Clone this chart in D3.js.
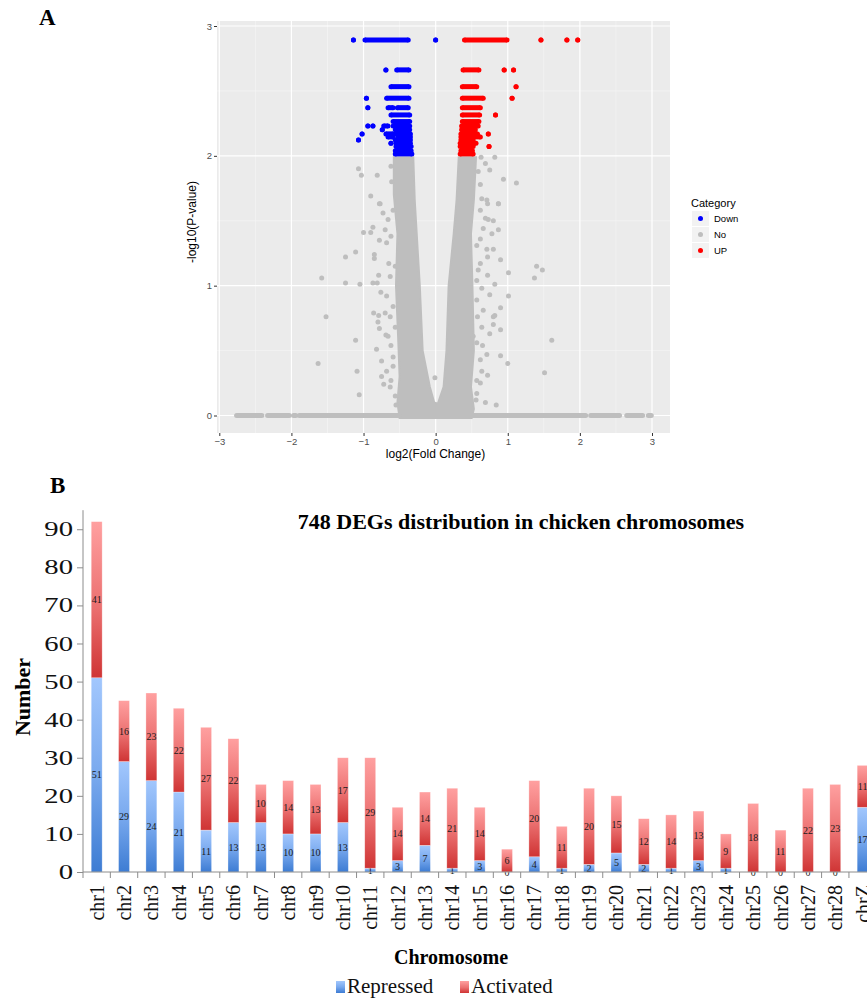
<!DOCTYPE html>
<html>
<head>
<meta charset="utf-8">
<script src="https://cdn.jsdelivr.net/npm/d3@7"></script>
<style>
  body { margin: 0; background: #fff; }
  svg { display: block; }
</style>
</head>
<body>
<svg id="fig" width="867" height="999"></svg>
<script>
// ---------- panel A: volcano plot (log2 fold change, -log10 p) ----------

// outline of the solid grey "V" where points overlap completely
var coreOutline = [
  [-0.50, -0.02], [-0.53, 0.10], [-0.50, 0.30], [-0.52, 0.60], [-0.55, 1.00],
  [-0.53, 1.40], [-0.58, 1.70], [-0.58, 1.99],
  [-0.31, 1.99], [-0.29, 1.66], [-0.22, 1.00], [-0.18, 0.50], [-0.08, 0.22], [-0.02, 0.10],
  [0.03, 0.09], [0.11, 0.22], [0.15, 0.50], [0.18, 1.00], [0.25, 1.40], [0.29, 1.66], [0.32, 1.99],
  [0.56, 1.99], [0.53, 1.66], [0.49, 1.40], [0.51, 1.00], [0.53, 0.50], [0.49, 0.22],
  [0.53, 0.05], [0.50, -0.02]
];

// runs of grey points lying on -log10(p) = 0  [x0, x1]
var baselineRuns = [
  [-2.76, -2.41], [-2.33, -2.03], [-1.97, -1.94], [-1.89, -0.5],
  [0.5, 2.08], [2.15, 2.55], [2.65, 2.87], [2.95, 2.99]
];

// scattered grey points [log2FC, -log10p]
var grayPoints = [
  [-1.58, 1.06], [-1.52, 0.76], [-1.63, 0.40], [-1.25, 1.22], [-1.11, 1.26], [-1.25, 1.02],
  [-1.05, 1.01], [-1.11, 0.58], [-1.09, 0.34], [-1.06, 0.16], [-1.00, 1.41], [-0.90, 1.41],
  [-0.87, 1.45], [-0.78, 1.35], [-0.85, 1.24], [-0.85, 1.21], [-0.79, 1.08], [-0.87, 1.02],
  [-0.81, 1.02], [-0.76, 0.95], [-0.86, 0.79], [-0.79, 0.77], [-0.80, 0.72], [-0.78, 0.67],
  [-0.82, 0.51], [-0.75, 0.42], [-0.75, 0.30], [-0.72, 0.24], [-0.77, 1.63], [-0.69, 0.62],
  [-0.62, 0.27], [-0.68, 0.34], [-0.63, 0.76], [-0.68, 1.33], [-0.65, 1.17], [-0.59, 0.45],
  [-0.62, 0.54], [-1.07, 1.90], [-1.03, 1.85], [-0.81, 1.85], [-0.90, 1.69], [-0.78, 1.63],
  [-0.73, 1.56], [-0.01, 0.29],
  [-0.59, 1.58], [-0.66, 1.51], [-0.70, 1.43], [-0.62, 1.38], [-0.56, 1.15], [-0.63, 1.07],
  [-0.68, 0.92], [-0.59, 0.84], [-0.70, 0.79], [-0.56, 0.68], [-0.66, 0.61], [-0.59, 0.38],
  [-0.63, 0.22], [-0.56, 0.15], [-0.55, 0.08], [-0.61, 1.80], [-0.62, 1.92],
  [1.01, 1.10], [1.01, 0.92], [1.00, 0.40], [1.37, 1.06], [1.40, 1.15], [1.48, 1.12],
  [1.61, 0.58], [1.51, 0.33], [0.90, 1.20], [0.90, 0.46], [0.90, 0.83], [0.87, 1.43],
  [0.87, 1.63], [0.82, 1.01], [0.82, 0.77], [0.84, 0.08], [0.75, 0.93], [0.75, 0.63],
  [0.72, 1.22], [0.72, 1.63], [0.80, 1.28], [0.80, 1.50], [0.80, 0.76], [0.80, 0.70],
  [0.72, 1.08], [0.69, 0.10], [0.71, 0.47], [0.72, 0.31], [0.62, 1.17], [0.62, 0.25],
  [0.64, 0.98], [0.66, 1.44], [0.57, 0.17], [0.52, 0.61], [0.65, 0.54], [0.90, 0.66],
  [0.82, 1.99], [0.63, 1.99], [0.69, 1.94], [0.75, 1.89], [0.94, 1.82], [1.12, 1.79],
  [0.62, 1.78], [0.64, 1.67], [0.71, 1.66], [0.87, 1.63], [0.73, 1.51],
  [0.62, 1.58], [0.69, 1.52], [0.78, 1.40], [0.62, 1.36], [0.57, 1.31], [0.71, 1.28],
  [0.59, 1.12], [0.57, 1.04], [0.57, 0.89], [0.66, 0.81], [0.58, 0.76], [0.64, 0.68],
  [0.57, 0.56], [0.62, 0.43], [0.64, 0.34], [0.57, 0.27], [0.56, 0.12], [0.59, 1.88]
];

// significant points, as horizontal runs of overlapping dots [y, x0, x1]
var downRuns = [
  [2.893, -1.14, -1.14], [2.893, -0.98, -0.38], [2.893, 0.0, 0.0],
  [2.662, -0.69, -0.69], [2.662, -0.54, -0.37],
  [2.533, -0.62, -0.37],
  [2.444, -0.96, -0.96], [2.444, -0.68, -0.37],
  [2.371, -0.94, -0.94], [2.371, -0.66, -0.59], [2.371, -0.53, -0.38],
  [2.315, -0.62, -0.36],
  [2.264, -0.59, -0.36],
  [2.230, -0.94, -0.94], [2.230, -0.87, -0.87], [2.230, -0.72, -0.66], [2.230, -0.59, -0.36],
  [2.200, -0.74, -0.74], [2.200, -0.56, -0.36],
  [2.169, -1.02, -1.02], [2.169, -0.69, -0.59], [2.169, -0.55, -0.35],
  [2.146, -0.66, -0.59], [2.146, -0.52, -0.35],
  [2.122, -1.07, -1.07], [2.122, -0.56, -0.35],
  [2.097, -0.62, -0.62], [2.097, -0.55, -0.35],
  [2.071, -0.55, -0.34],
  [2.040, -0.56, -0.34],
  [2.015, -0.56, -0.33]
];
var upRuns = [
  [2.893, 0.40, 0.99], [2.893, 1.46, 1.46], [2.893, 1.82, 1.82], [2.893, 1.97, 1.97],
  [2.662, 0.38, 0.60], [2.662, 0.95, 0.95], [2.662, 1.08, 1.08],
  [2.533, 0.37, 0.57], [2.533, 1.115, 1.115],
  [2.444, 0.37, 0.66], [2.444, 1.06, 1.06],
  [2.371, 0.37, 0.62],
  [2.315, 0.37, 0.61], [2.315, 0.83, 0.83],
  [2.264, 0.37, 0.60],
  [2.230, 0.36, 0.59],
  [2.200, 0.36, 0.55],
  [2.169, 0.35, 0.58], [2.169, 0.73, 0.73],
  [2.146, 0.35, 0.62],
  [2.122, 0.35, 0.52],
  [2.097, 0.34, 0.56],
  [2.071, 0.34, 0.52], [2.071, 0.74, 0.74],
  [2.040, 0.35, 0.51],
  [2.015, 0.34, 0.52]
];

var categoryNames = ["Down", "No", "UP"];
var categoryColors = ["#0000ff", "#bebebe", "#ff0000"];
var xTicksA = [-3, -2, -1, 0, 1, 2, 3];
var yTicksA = [0, 1, 2, 3];

// ---------- panel B: DEGs per chromosome ----------
var chromosomes = ["chr1","chr2","chr3","chr4","chr5","chr6","chr7","chr8","chr9","chr10",
  "chr11","chr12","chr13","chr14","chr15","chr16","chr17","chr18","chr19","chr20",
  "chr21","chr22","chr23","chr24","chr25","chr26","chr27","chr28","chrZ"];
var repressed = [51,29,24,21,11,13,13,10,10,13, 1,3,7,1,3,0,4,1,2,5, 2,1,3,1,0,0,0,0,17];
var activated = [41,16,23,22,27,22,10,14,13,17, 29,14,14,21,14,6,20,11,20,15, 12,14,13,9,18,11,22,23,11];
var seriesNames = ["Repressed", "Activated"];
var yTicksB = d3.range(0, 91, 10);

var svg = d3.select("#fig");
var sans = "'Liberation Sans', Arial, sans-serif";
var serif = "'Liberation Serif', 'Times New Roman', serif";

var defs = svg.append("defs");
function grad(id, stops) {
  var g = defs.append("linearGradient").attr("id", id)
    .attr("x1", 0).attr("y1", 0).attr("x2", 0).attr("y2", 1);
  stops.forEach(function(s) {
    g.append("stop").attr("offset", s[0]).attr("stop-color", s[1]);
  });
}
grad("gBlue", [[0, "#a2c7fd"], [0.5, "#79a9ee"], [1, "#3d7cd3"]]);
grad("gRed", [[0, "#ffa0a0"], [0.55, "#eb7070"], [1, "#cf3434"]]);

// ================= PANEL A =================
var A = { left: 217, right: 670, top: 21, bottom: 433 };
var x = d3.scaleLinear().domain([-3, 3]).range([219.3, 652]);
var y = d3.scaleLinear().domain([0, 3]).range([415.5, 26]);
var r = 2.5;

var gA = svg.append("g");
gA.append("text").attr("x", 39).attr("y", 25)
  .attr("font-family", serif).attr("font-weight", "bold").attr("font-size", 23)
  .text("A");

gA.append("rect").attr("x", A.left).attr("y", A.top)
  .attr("width", A.right - A.left).attr("height", A.bottom - A.top)
  .attr("fill", "#ebebeb");

var minorX = d3.range(-2.5, 3, 1), minorY = [0.5, 1.5, 2.5];
gA.selectAll(".mx").data(minorX).enter().append("line")
  .attr("x1", d => x(d)).attr("x2", d => x(d)).attr("y1", A.top).attr("y2", A.bottom)
  .attr("stroke", "#f7f7f7").attr("stroke-width", 0.6);
gA.selectAll(".my").data(minorY).enter().append("line")
  .attr("x1", A.left).attr("x2", A.right).attr("y1", d => y(d)).attr("y2", d => y(d))
  .attr("stroke", "#f7f7f7").attr("stroke-width", 0.6);
gA.selectAll(".gx").data(xTicksA).enter().append("line")
  .attr("x1", d => x(d)).attr("x2", d => x(d)).attr("y1", A.top).attr("y2", A.bottom)
  .attr("stroke", "#fff").attr("stroke-width", 1.2);
gA.selectAll(".gy").data(yTicksA).enter().append("line")
  .attr("x1", A.left).attr("x2", A.right).attr("y1", d => y(d)).attr("y2", d => y(d))
  .attr("stroke", "#fff").attr("stroke-width", 1.2);

// non-significant
gA.append("path").datum(coreOutline)
  .attr("d", d3.line().x(d => x(d[0])).y(d => y(d[1])).curve(d3.curveLinearClosed))
  .attr("fill", categoryColors[1]).attr("stroke", categoryColors[1]).attr("stroke-width", 2);
gA.selectAll(".base").data(baselineRuns).enter().append("line")
  .attr("x1", d => x(d[0])).attr("x2", d => x(d[1])).attr("y1", y(0)).attr("y2", y(0))
  .attr("stroke", categoryColors[1]).attr("stroke-width", 2 * r).attr("stroke-linecap", "round");
gA.selectAll(".gp").data(grayPoints).enter().append("circle")
  .attr("cx", d => x(d[0])).attr("cy", d => y(d[1])).attr("r", r)
  .attr("fill", categoryColors[1]);

function drawRuns(runs, color) {
  var g = gA.append("g").attr("fill", color);
  g.selectAll("line").data(runs).enter().append("line")
    .attr("x1", d => x(d[1])).attr("x2", d => x(d[2]))
    .attr("y1", d => y(d[0])).attr("y2", d => y(d[0]))
    .attr("stroke", color).attr("stroke-width", 2 * r);
  g.selectAll("circle.a").data(runs).enter().append("circle")
    .attr("cx", d => x(d[1])).attr("cy", d => y(d[0])).attr("r", r);
  g.selectAll("circle.b").data(runs).enter().append("circle")
    .attr("cx", d => x(d[2])).attr("cy", d => y(d[0])).attr("r", r);
}
drawRuns(downRuns, categoryColors[0]);
drawRuns(upRuns, categoryColors[2]);

// axes
var axA = gA.append("g").attr("transform", "translate(0," + A.bottom + ")")
  .call(d3.axisBottom(x).tickValues(xTicksA).tickSize(3).tickPadding(2).tickFormat(d3.format("d")));
var ayA = gA.append("g").attr("transform", "translate(" + A.left + ",0)")
  .call(d3.axisLeft(y).tickValues(yTicksA).tickSize(3).tickPadding(2).tickFormat(d3.format("d")));
[axA, ayA].forEach(function(ax) {
  ax.select(".domain").remove();
  ax.selectAll("line").attr("stroke", "#333");
  ax.selectAll("text").attr("font-family", sans).attr("font-size", 9.5).attr("fill", "#4d4d4d");
});
gA.append("text").attr("x", (A.left + A.right) / 2 - 8).attr("y", 458)
  .attr("text-anchor", "middle").attr("font-family", sans).attr("font-size", 12)
  .text("log2(Fold Change)");
gA.append("text").attr("transform", "translate(196,222) rotate(-90)")
  .attr("text-anchor", "middle").attr("font-family", sans).attr("font-size", 12)
  .text("-log10(P-value)");

// legend A
var lgA = gA.append("g").attr("transform", "translate(691,0)");
lgA.append("text").attr("x", 0).attr("y", 207)
  .attr("font-family", sans).attr("font-size", 11).text("Category");
var lItems = lgA.selectAll(".li").data(categoryNames).enter().append("g")
  .attr("transform", (d, i) => "translate(0," + (211 + i * 16) + ")");
lItems.append("rect").attr("x", 1).attr("y", 0).attr("width", 17).attr("height", 15)
  .attr("fill", "#f2f2f2");
lItems.append("circle").attr("cx", 9.5).attr("cy", 7.5).attr("r", r)
  .attr("fill", (d, i) => categoryColors[i]);
lItems.append("text").attr("x", 23).attr("y", 11)
  .attr("font-family", sans).attr("font-size", 9.5).text(d => d);

// ================= PANEL B =================
var gB = svg.append("g");
gB.append("text").attr("x", 50).attr("y", 493)
  .attr("font-family", serif).attr("font-weight", "bold").attr("font-size", 23)
  .text("B");

var rows = chromosomes.map(function(c, i) {
  return { chr: c, Repressed: repressed[i], Activated: activated[i] };
});
var stacked = d3.stack().keys(seriesNames)(rows);

var xB = d3.scaleBand().domain(chromosomes).range([83, 876.3]);
var yB = d3.scaleLinear().domain([0, 95]).range([872, 510.2]);
var barW = xB.bandwidth() * 0.4;
var fills = ["url(#gBlue)", "url(#gRed)"];

gB.append("text").attr("x", 521).attr("y", 529)
  .attr("text-anchor", "middle").attr("font-family", serif).attr("font-weight", "bold")
  .attr("font-size", 22).text("748 DEGs distribution in chicken chromosomes");

var layers = gB.selectAll(".layer").data(stacked).enter().append("g")
  .attr("fill", (d, i) => fills[i]);
layers.selectAll("rect").data(d => d).enter().append("rect")
  .attr("x", d => xB(d.data.chr) + (xB.bandwidth() - barW) / 2)
  .attr("y", d => yB(d[1]))
  .attr("width", barW)
  .attr("height", d => yB(d[0]) - yB(d[1]))
  .attr("stroke", "rgba(255,255,255,0.5)").attr("stroke-width", 0.6);

layers.each(function(s) {
  d3.select(this).selectAll("text").data(s).enter().append("text")
    .attr("x", d => xB(d.data.chr) + xB.bandwidth() / 2)
    .attr("y", d => (yB(d[0]) + yB(d[1])) / 2)
    .attr("dy", "0.35em").attr("text-anchor", "middle")
    .attr("font-family", serif).attr("font-size", 10).attr("fill", "#1a1a1a")
    .text(d => d.data[s.key]);
});

// axes B (tick numbers in the source are drawn horizontally stretched)
var ayB = gB.append("g").attr("transform", "translate(83,0)")
  .call(d3.axisLeft(yB).tickValues(yTicksB).tickSize(6).tickPadding(4).tickFormat(d3.format("d")));
ayB.select(".domain").attr("d", "M0," + yB(95) + "V" + yB(0)).attr("stroke", "#8c8c8c");
ayB.selectAll(".tick line").attr("stroke", "#8c8c8c");
ayB.selectAll("text").attr("font-family", serif).attr("font-size", 20.5).attr("fill", "#111")
  .attr("x", -10 / 1.4).attr("transform", "scale(1.4,1)");

var bounds = chromosomes.map(c => xB(c)).concat([xB.range()[1]]);
gB.append("line").attr("x1", 83).attr("x2", 876.3).attr("y1", yB(0)).attr("y2", yB(0))
  .attr("stroke", "#8c8c8c");
gB.selectAll(".xt").data(bounds).enter().append("line")
  .attr("x1", d => d).attr("x2", d => d).attr("y1", yB(0)).attr("y2", yB(0) + 6)
  .attr("stroke", "#8c8c8c");
gB.selectAll(".xl").data(chromosomes).enter().append("text")
  .attr("transform", d => "translate(" + (xB(d) + xB.bandwidth() / 2) + ",885) rotate(-90)")
  .attr("dy", "0.35em").attr("text-anchor", "end")
  .attr("font-family", serif).attr("font-size", 20).attr("fill", "#111")
  .text(d => d);

gB.append("text").attr("transform", "translate(30,697) rotate(-90)")
  .attr("text-anchor", "middle").attr("font-family", serif).attr("font-weight", "bold")
  .attr("font-size", 22).text("Number");
gB.append("text").attr("x", 451).attr("y", 964)
  .attr("text-anchor", "middle").attr("font-family", serif).attr("font-weight", "bold")
  .attr("font-size", 20).text("Chromosome");

// legend B
var lgB = gB.selectAll(".lb").data(seriesNames).enter().append("g")
  .attr("transform", (d, i) => "translate(" + (336 + i * 124) + ",0)");
lgB.append("rect").attr("x", 0).attr("y", 981).attr("width", 9).attr("height", 12)
  .attr("fill", (d, i) => fills[i]);
lgB.append("text").attr("x", 11).attr("y", 993)
  .attr("font-family", serif).attr("font-size", 21).attr("fill", "#111").text(d => d);
</script>
</body>
</html>
